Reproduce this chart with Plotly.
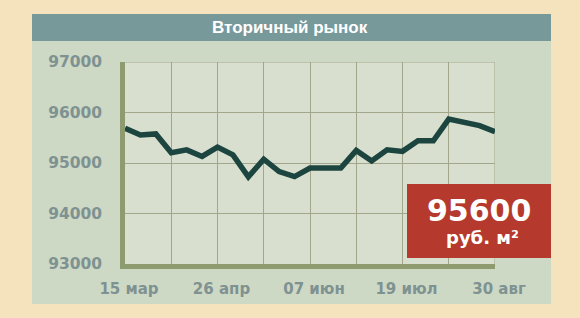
import plotly.graph_objects as go
import pandas as pd

# ---- data ----
start_date = "2013-03-15"
weeks = 25
prices = [95690, 95555, 95575, 95205, 95260, 95130, 95315, 95160, 94725,
          95075, 94830, 94730, 94900, 94910, 94900, 95250, 95040, 95260,
          95230, 95440, 95440, 95870, 95810, 95740, 95620]
dates = list(pd.date_range(start_date, periods=weeks, freq="7D"))
grid_dates = dates[::3]
tick_labels = ["15 мар", "", "26 апр", "", "07 июн", "", "19 июл", "", "30 авг"]
y_ticks = [93000, 94000, 95000, 96000, 97000]
title_text = "Вторичный рынок"
badge_value = "95600"
badge_unit = "руб. м²"

W, H = 580, 318
L, R, T, B = 125, 85, 62, 54
PW, PH = W - L - R, H - T - B


def xp(px):
    return (px - L) / PW


def yp(py):
    return (H - B - py) / PH


FONT = "DejaVu Sans"
LABEL_COLOR = "#7e9291"
GRID = "#a2a78b"

fig = go.Figure()
fig.add_trace(go.Scatter(
    x=dates, y=prices, mode="lines",
    line=dict(color="#1d4540", width=5.5, shape="linear"),
    hoverinfo="skip", showlegend=False,
))

shapes = [
    # panel
    dict(type="rect", xref="paper", yref="paper", x0=xp(32), x1=xp(551),
         y0=yp(304), y1=yp(41), fillcolor="#cdd8c5", line_width=0, layer="below"),
    # plot area background
    dict(type="rect", xref="paper", yref="paper", x0=0, x1=1, y0=0, y1=1,
         fillcolor="#d8dfcf", line_width=0, layer="below"),
    # title bar
    dict(type="rect", xref="paper", yref="paper", x0=xp(32), x1=xp(551),
         y0=yp(41), y1=yp(14), fillcolor="#77999a", line_width=0, layer="below"),
    # edge grid lines (top and right)
    dict(type="line", xref="x", yref="y", x0=dates[0], x1=dates[-1],
         y0=y_ticks[-1], y1=y_ticks[-1], line=dict(color=GRID, width=1), layer="below"),
    dict(type="line", xref="x", yref="y", x0=dates[-1], x1=dates[-1],
         y0=y_ticks[0], y1=y_ticks[-1], line=dict(color=GRID, width=1), layer="below"),
    # red badge
    dict(type="rect", xref="paper", yref="paper", x0=xp(407), x1=xp(551),
         y0=yp(258), y1=yp(184), fillcolor="#b5392c", line_width=0, layer="above"),
]

annotations = [
    dict(text=f"<b>{title_text}</b>", xref="paper", yref="paper",
         x=xp(290), y=yp(27), showarrow=False, xanchor="center", yanchor="middle",
         font=dict(family="Liberation Sans", size=17, color="white")),
    dict(text=f"<b>{badge_value}</b>", xref="paper", yref="paper",
         x=xp(479), y=yp(210), showarrow=False, xanchor="center", yanchor="middle",
         font=dict(family=FONT, size=30, color="white")),
    dict(text=f"<b>{badge_unit}</b>", xref="paper", yref="paper",
         x=xp(482), y=yp(237), showarrow=False, xanchor="center", yanchor="middle",
         font=dict(family=FONT, size=18, color="white")),
]

fig.update_layout(
    width=W, height=H,
    margin=dict(l=L, r=R, t=T, b=B, pad=0),
    paper_bgcolor="#f4e3bd",
    plot_bgcolor="rgba(0,0,0,0)",
    shapes=shapes,
    annotations=annotations,
    showlegend=False,
    xaxis=dict(
        range=[dates[0], dates[-1]],
        tickmode="array", tickvals=grid_dates, ticktext=tick_labels,
        showgrid=True, gridcolor=GRID, gridwidth=1,
        showline=True, linecolor="#8d9b6f", linewidth=4.5,
        ticks="", ticklabelstandoff=7, ticklabelshift=4,
        tickfont=dict(family=FONT, size=15, color=LABEL_COLOR, weight="bold"),
        zeroline=False, fixedrange=True,
    ),
    yaxis=dict(
        range=[93000, 97000],
        tickmode="array", tickvals=y_ticks, ticktext=[str(v) for v in y_ticks],
        showgrid=True, gridcolor=GRID, gridwidth=1,
        showline=True, linecolor="#8d9b6f", linewidth=4.5,
        ticks="", ticklabelstandoff=15,
        tickfont=dict(family=FONT, size=15.5, color=LABEL_COLOR, weight="bold"),
        zeroline=False, fixedrange=True,
    ),
)

fig.write_html("out.html", config={"displayModeBar": False})
